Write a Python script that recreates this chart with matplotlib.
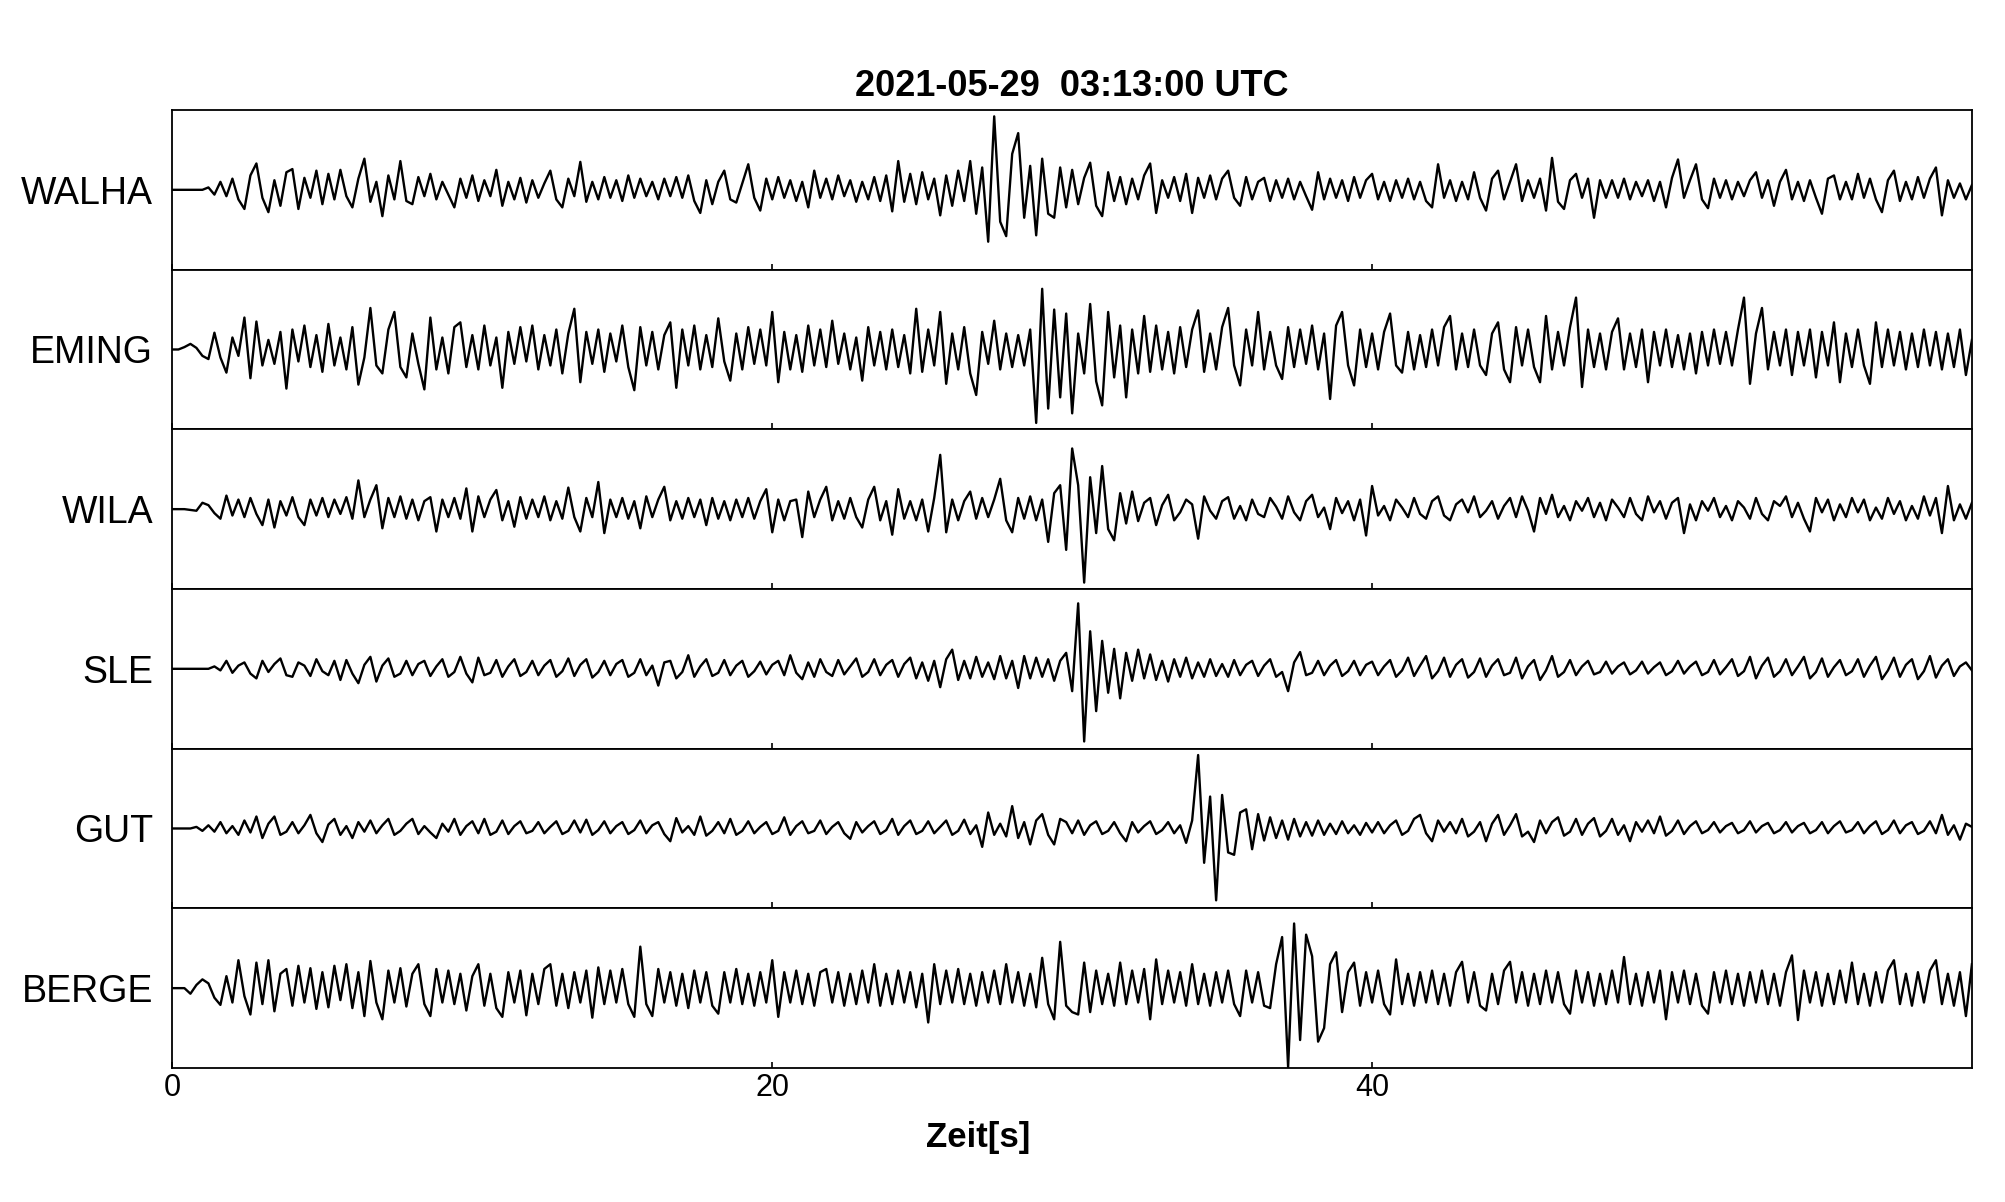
import numpy as np
from matplotlib import pyplot as plt

plt.rcParams['font.family'] = ['Liberation Sans', 'DejaVu Sans']

TITLE = "2021-05-29  03:13:00 UTC"
XLABEL = "Zeit[s]"
DT = 0.2  # sample spacing of the traces below [s]

stations = ["WALHA", "EMING", "WILA", "SLE", "GUT", "BERGE"]

# amplitudes in percent of half the panel height
walha = [
    0, 0, 0, 0, 0, 0, 3, -6, 10, -8, 14, -12, -24, 18, 33, -10, -28, 12, -20, 22,
    26, -24, 15, -10, 24, -18, 20, -12, 25, -8, -22, 14, 39, -15, 10, -33, 18, -12, 36, -14,
    -18, 16, -8, 20, -12, 10, -6, -22, 14, -10, 18, -14, 12, -8, 25, -20, 10, -12, 15, -16,
    12, -10, 8, 24, -12, -22, 14, -8, 35, -15, 10, -12, 16, -10, 12, -14, 18, -10, 14, -8,
    10, -12, 14, -8, 16, -10, 18, -14, -29, 12, -18, 10, 24, -12, -16, 8, 32, -10, -26, 14,
    -12, 16, -10, 12, -14, 10, -22, 24, -10, 14, -12, 18, -8, 12, -15, 10, -12, 16, -14, 18,
    -27, 36, -15, 20, -18, 22, -12, 14, -32, 18, -20, 24, -14, 36, -30, 28, -65, 92, -40, -58,
    45, 71, -35, 30, -57, 39, -30, -35, 28, -22, 25, -18, 15, 34, -20, -33, 22, -14, 16, -18,
    14, -12, 18, 33, -29, 12, -10, 16, -14, 20, -29, 15, -10, 18, -12, 14, 24, -10, -20, 16,
    -12, 10, 15, -14, 12, -10, 14, -12, 10, -8, -25, 22, -12, 14, -10, 12, -14, 16, -10, 12,
    20, -12, 10, -14, 12, -10, 14, -12, 10, -14, -22, 32, -10, 12, -14, 10, -12, 22, -10, -26,
    14, 24, -12, 10, 32, -14, 12, -10, 14, -26, 40, -15, -24, 12, 20, -10, 14, -35, 12, -10,
    12, -10, 14, -12, 10, -8, 12, -14, 10, -22, 15, 38, -10, 12, 32, -12, -23, 14, -10, 12,
    -12, 10, -8, 12, 22, -10, 12, -20, 10, 25, -12, 10, -14, 12, -10, -30, 14, 18, -12, 10,
    -12, 20, -10, 14, -12, -28, 12, 24, -14, 10, -12, 16, -10, 14, 28, -32, 12, -10, 8, -12, 6,
]
eming = [
    0, 0, 3, 7, 2, -8, -12, 21, -10, -29, 15, -8, 40, -36, 35, -20, 12, -18, 22, -49,
    25, -15, 30, -22, 18, -28, 32, -20, 15, -25, 28, -44, -10, 52, -20, -30, 25, 47, -22, -35,
    20, -18, -50, 40, -25, 15, -30, 28, 34, -22, 18, -25, 30, -20, 15, -48, 22, -18, 28, -15,
    30, -25, 18, -20, 25, -30, 20, 51, -41, 22, -18, 25, -28, 20, -15, 30, -22, -51, 28, -20,
    22, -25, 18, 34, -48, 25, -20, 30, -25, 18, -22, 39, -15, -39, 20, -25, 28, -18, 25, -20,
    47, -41, 22, -25, 18, -28, 30, -20, 25, -22, 36, -18, 20, -25, 15, -39, 28, -20, 22, -25,
    25, -22, 18, -30, 51, -28, 25, -20, 47, -43, 20, -25, 28, -30, -57, 22, -18, 36, -25, 20,
    -22, 18, -20, 25, -92, 76, -74, 50, -60, 45, -80, 20, -30, 57, -40, -70, 47, -35, 30, -60,
    25, -30, 42, -28, 30, -25, 22, -30, 28, -22, 25, 49, -28, 20, -25, 28, 52, -20, -45, 25,
    -20, 47, -25, 22, -20, -37, 28, -22, 25, -18, 30, -25, 20, -62, 30, 47, -20, -45, 25, -22,
    20, -25, 22, 45, -20, -29, 22, -25, 18, -22, 25, -20, 28, 42, -25, 20, -22, 25, -20, -32,
    20, 34, -25, -41, 28, -20, 25, -22, -41, 42, -25, 22, -20, 28, 65, -47, 25, -22, 20, -25,
    22, 39, -25, 20, -22, 25, -41, 22, -20, 25, -22, 18, -25, 20, -30, 22, -20, 25, -18, 22,
    -20, 25, 65, -43, 20, 52, -25, 22, -20, 25, -32, 22, -20, 25, -35, 22, -20, 34, -41, 20,
    -22, 25, -20, -43, 34, -22, 25, -20, 22, -25, 20, -22, 25, -20, 22, -25, 20, -22, 25, -32, 12,
]
wila = [
    0, 0, 0, -1, -2, 8, 5, -5, -12, 17, -8, 12, -10, 14, -6, -20, 12, -23, 10, -8,
    15, -10, -20, 12, -8, 14, -10, 12, -6, 15, -12, 36, -10, 12, 30, -24, 14, -10, 16, -12,
    12, -14, 10, 15, -28, 12, -10, 14, -12, 26, -28, 16, -10, 12, 24, -14, 10, -22, 15, -12,
    12, -10, 16, -14, 10, -12, 27, -10, -28, 14, -10, 34, -30, 12, -10, 14, -12, 10, -24, 16,
    -10, 12, 28, -14, 10, -12, 14, -10, 12, -20, 14, -12, 10, -14, 12, -10, 14, -12, 10, 25,
    -29, 12, -14, 10, 12, -35, 22, -10, 12, 28, -14, 10, -12, 14, -10, -23, 12, 28, -14, 10,
    -32, 25, -12, 10, -14, 12, -28, 14, 68, -29, 12, -14, 10, 22, -12, 14, -10, 12, 38, -14,
    -29, 14, -12, 16, -14, 12, -41, 20, 30, -51, 76, 30, -92, 40, -30, 54, -25, -39, 20, -18,
    22, -15, 8, 14, -20, 5, 18, -14, -4, 12, 6, -37, 16, -2, -12, 10, 15, -12, 4, -14,
    12, -6, -10, 14, 3, -12, 16, -4, -14, 10, 18, -10, 2, -25, 14, -5, 10, -14, 12, -33,
    29, -8, 4, -14, 12, 2, -10, 14, -6, -12, 10, 16, -8, -14, 6, 12, -4, 16, -10, -2,
    10, -12, 4, 14, -10, 16, -2, -28, 14, -6, 18, -10, 4, -14, 10, -2, 14, -10, 8, -14,
    12, 2, -10, 14, -6, -14, 16, -4, 10, -12, 8, 14, -30, 6, -14, 10, -2, 14, -10, 4,
    -14, 10, 2, -12, 14, -6, -14, 10, 4, 16, -10, 8, -12, -28, 14, -4, 12, -14, 6, -10,
    14, -4, 12, -14, 2, -12, 14, -6, 10, -14, 4, -12, 16, -8, 14, -30, 29, -14, 6, -12, 8,
]
sle = [
    0, 0, 0, 0, 0, 0, 0, 3, -2, 10, -5, 4, 8, -6, -12, 10, -4, 6, 13, -8,
    -10, 8, 4, -9, 12, -3, -8, 10, -14, 11, -6, -18, 5, 15, -16, 4, 13, -10, -6, 10,
    -8, 6, 10, -9, 3, 12, -10, -4, 15, -6, -17, 14, -8, -5, 11, -10, 3, 12, -9, -4,
    10, -8, 4, 11, -10, -3, 13, -9, 5, 12, -11, -4, 10, -8, 6, 11, -10, -5, 12, -8,
    4, -21, 8, 10, -12, -4, 17, -10, 3, 12, -9, -5, 11, -8, 4, 10, -10, -3, 9, -7,
    5, 10, -8, 17, -5, -13, 8, -10, 12, -4, -9, 11, -7, 3, 13, -10, -4, 12, -8, 5,
    11, -10, 6, 14, -12, 8, -15, 10, -23, 12, 24, -14, 10, -12, 15, -10, 8, -13, 16, -12,
    10, -24, 16, -12, 14, -10, 12, -15, 10, 20, -28, 82, -91, 47, -53, 35, -30, 25, -37, 20,
    -15, 24, -12, 18, -14, 10, -16, 12, -10, 14, -12, 8, -10, 12, -9, 6, -10, 11, -8, 5,
    10, -9, 4, 12, -10, -4, -28, 8, 21, -8, -5, 10, -8, 4, 11, -9, -3, 10, -8, 5,
    9, -8, 3, 11, -10, -2, 14, -9, 4, 16, -12, -3, 14, -10, 5, 12, -11, -4, 13, -10,
    4, 12, -8, -5, 14, -12, 3, 11, -14, -2, 16, -10, -4, 11, -8, 3, 10, -7, -4, 9,
    -6, 3, 8, -7, -2, 9, -6, 2, 8, -8, -3, 10, -6, 3, 9, -8, -4, 11, -7, 2,
    12, -9, -3, 15, -12, 4, 14, -10, -3, 12, -8, 3, 15, -12, -4, 13, -10, 2, 11, -8,
    -3, 12, -10, 4, 15, -13, -2, 14, -10, 5, 12, -13, -3, 16, -11, 4, 12, -9, 3, 8, -2,
]
gut = [
    0, 0, 0, 0, 2, -3, 4, -4, 8, -6, 3, -8, 10, -5, 15, -12, 6, 15, -8, -4,
    8, -6, 4, 17, -6, -17, 5, 12, -8, 3, -12, 8, -4, 10, -6, 4, 12, -8, -3, 6,
    12, -7, 3, -5, -12, 6, -4, 12, -8, 3, 9, -6, 12, -8, -4, 10, -7, 3, 9, -6,
    -3, 8, -6, 2, 9, -7, -3, 10, -5, 11, -8, -2, 9, -6, 3, 8, -7, -2, 10, -6,
    4, 8, -7, -16, 13, -5, 3, -8, 15, -9, -3, 8, -6, 12, -8, -3, 9, -6, 2, 8,
    -7, -3, 14, -8, 3, 9, -6, -3, 10, -7, 2, 8, -6, -13, 8, -5, 3, 9, -7, -2,
    12, -8, 3, 10, -7, -3, 9, -6, 2, 10, -8, -3, 11, -7, 4, -23, 20, -8, 6, -10,
    28, -12, 8, -20, 10, 18, -8, -20, 12, 8, -6, 10, -8, 4, 9, -7, -3, 8, -6, -16,
    8, -5, 3, 9, -7, -2, 8, -6, 4, -18, 10, 92, -43, 40, -90, 42, -30, -33, 20, 24,
    -26, 18, -15, 14, -12, 10, -14, 12, -10, 8, -9, 10, -8, 6, -7, 9, -6, 4, -8, 7,
    -5, 8, -6, 4, 10, -8, -3, 12, 17, -6, -16, 10, -4, 8, -6, 12, -10, -4, 8, -16,
    6, 17, -8, 4, 18, -10, -4, -17, 10, -6, 8, 14, -9, -4, 12, -8, 6, 13, -10, -3,
    12, -8, 4, -16, 8, -4, 10, -6, 15, -9, -3, 10, -7, 3, 9, -6, -2, 8, -5, 3,
    7, -6, -2, 9, -5, 3, 7, -6, -2, 8, -5, 3, 7, -6, -2, 8, -6, 3, 9, -5,
    -2, 8, -6, 3, 9, -7, -2, 10, -6, 4, 8, -7, -3, 9, -6, 17, -8, 4, -14, 6, 2,
]
berge = [
    0, 0, 0, -7, 4, 11, 6, -12, -21, 15, -18, 35, -10, -33, 32, -20, 35, -29, 18, 24,
    -22, 28, -18, 25, -26, 20, -24, 28, -15, 30, -25, 20, -35, 34, -18, -39, 22, -18, 25, -23,
    18, 30, -20, -35, 24, -18, 22, -20, 18, -28, 15, 30, -22, 18, -25, -36, 20, -18, 22, -34,
    18, -20, 24, 30, -22, 18, -25, 20, -18, 22, -37, 26, -20, 22, -18, 24, -20, -36, 52, -20,
    -35, 24, -18, 20, -22, 18, -25, 22, -18, 20, -22, -32, 20, -18, 24, -20, 18, -22, 20, -18,
    35, -36, 20, -18, 22, -20, 18, -22, 20, 24, -18, 20, -22, 18, -20, 22, -18, 30, -22, 18,
    -20, 22, -18, 20, -24, 18, -43, 30, -20, 22, -18, 24, -20, 18, -22, 20, -18, 22, -20, 30,
    -18, 20, -22, 18, -24, 38, -20, -39, 58, -22, -30, -33, 32, -30, 22, -20, 18, -22, 32, -20,
    22, -18, 24, -39, 36, -20, 22, -18, 20, -22, 30, -20, 18, -22, 20, -18, 22, -20, -35, 22,
    -18, 20, -22, -25, 30, 64, -99, 81, -65, 67, 40, -67, -50, 30, 45, -30, 20, 32, -22, 20,
    -18, 22, -20, -33, 36, -20, 18, -22, 20, -18, 22, -20, 18, -22, 20, 33, -18, 20, -22, -28,
    18, -20, 22, 33, -18, 20, -22, 18, -20, 22, -18, 20, -20, -32, 22, -18, 20, -22, 18, -20,
    22, -18, 39, -20, 18, -22, 20, -18, 22, -39, 20, -18, 22, -20, 18, -22, -32, 20, -18, 22,
    -20, 18, -22, 20, -18, 22, -20, 18, -22, 20, 41, -40, 22, -18, 20, -22, 18, -20, 22, -18,
    32, -20, 18, -22, 20, -18, 22, 35, -20, 18, -22, 20, -18, 22, 35, -20, 18, -22, 20, -35, 30,
]

traces = [walha, eming, wila, sle, gut, berge]
xticks = [0, 20, 40]

fig, axes = plt.subplots(len(stations), 1, sharex=True, figsize=(20.05, 12.02), dpi=100)
fig.subplots_adjust(left=0.086, right=0.9835, top=0.9085, bottom=0.1115, hspace=0)

for ax, name, tr in zip(axes, stations, traces):
    y = np.array(tr) / 100.0
    t = np.arange(len(y)) * DT
    ax.plot(t, y, color='black', lw=1.7)
    ax.set_ylim(-1, 1)
    ax.set_yticks([0])
    ax.set_yticklabels([name], fontsize=27)
    ax.tick_params(axis='y', length=0, pad=14)
    ax.tick_params(axis='x', direction='in', length=4, width=1.2, labelsize=22)
    for s in ax.spines.values():
        s.set_linewidth(1.3)

axes[0].set_xlim(0, 60)
axes[0].set_xticks(xticks)
axes[0].set_title(TITLE, fontsize=26, fontweight='bold', pad=10)
axes[-1].set_xlabel(XLABEL, fontsize=25, fontweight='bold')
axes[-1].xaxis.set_label_coords(0.448, -0.33)

fig.savefig("out.png", dpi=100)
